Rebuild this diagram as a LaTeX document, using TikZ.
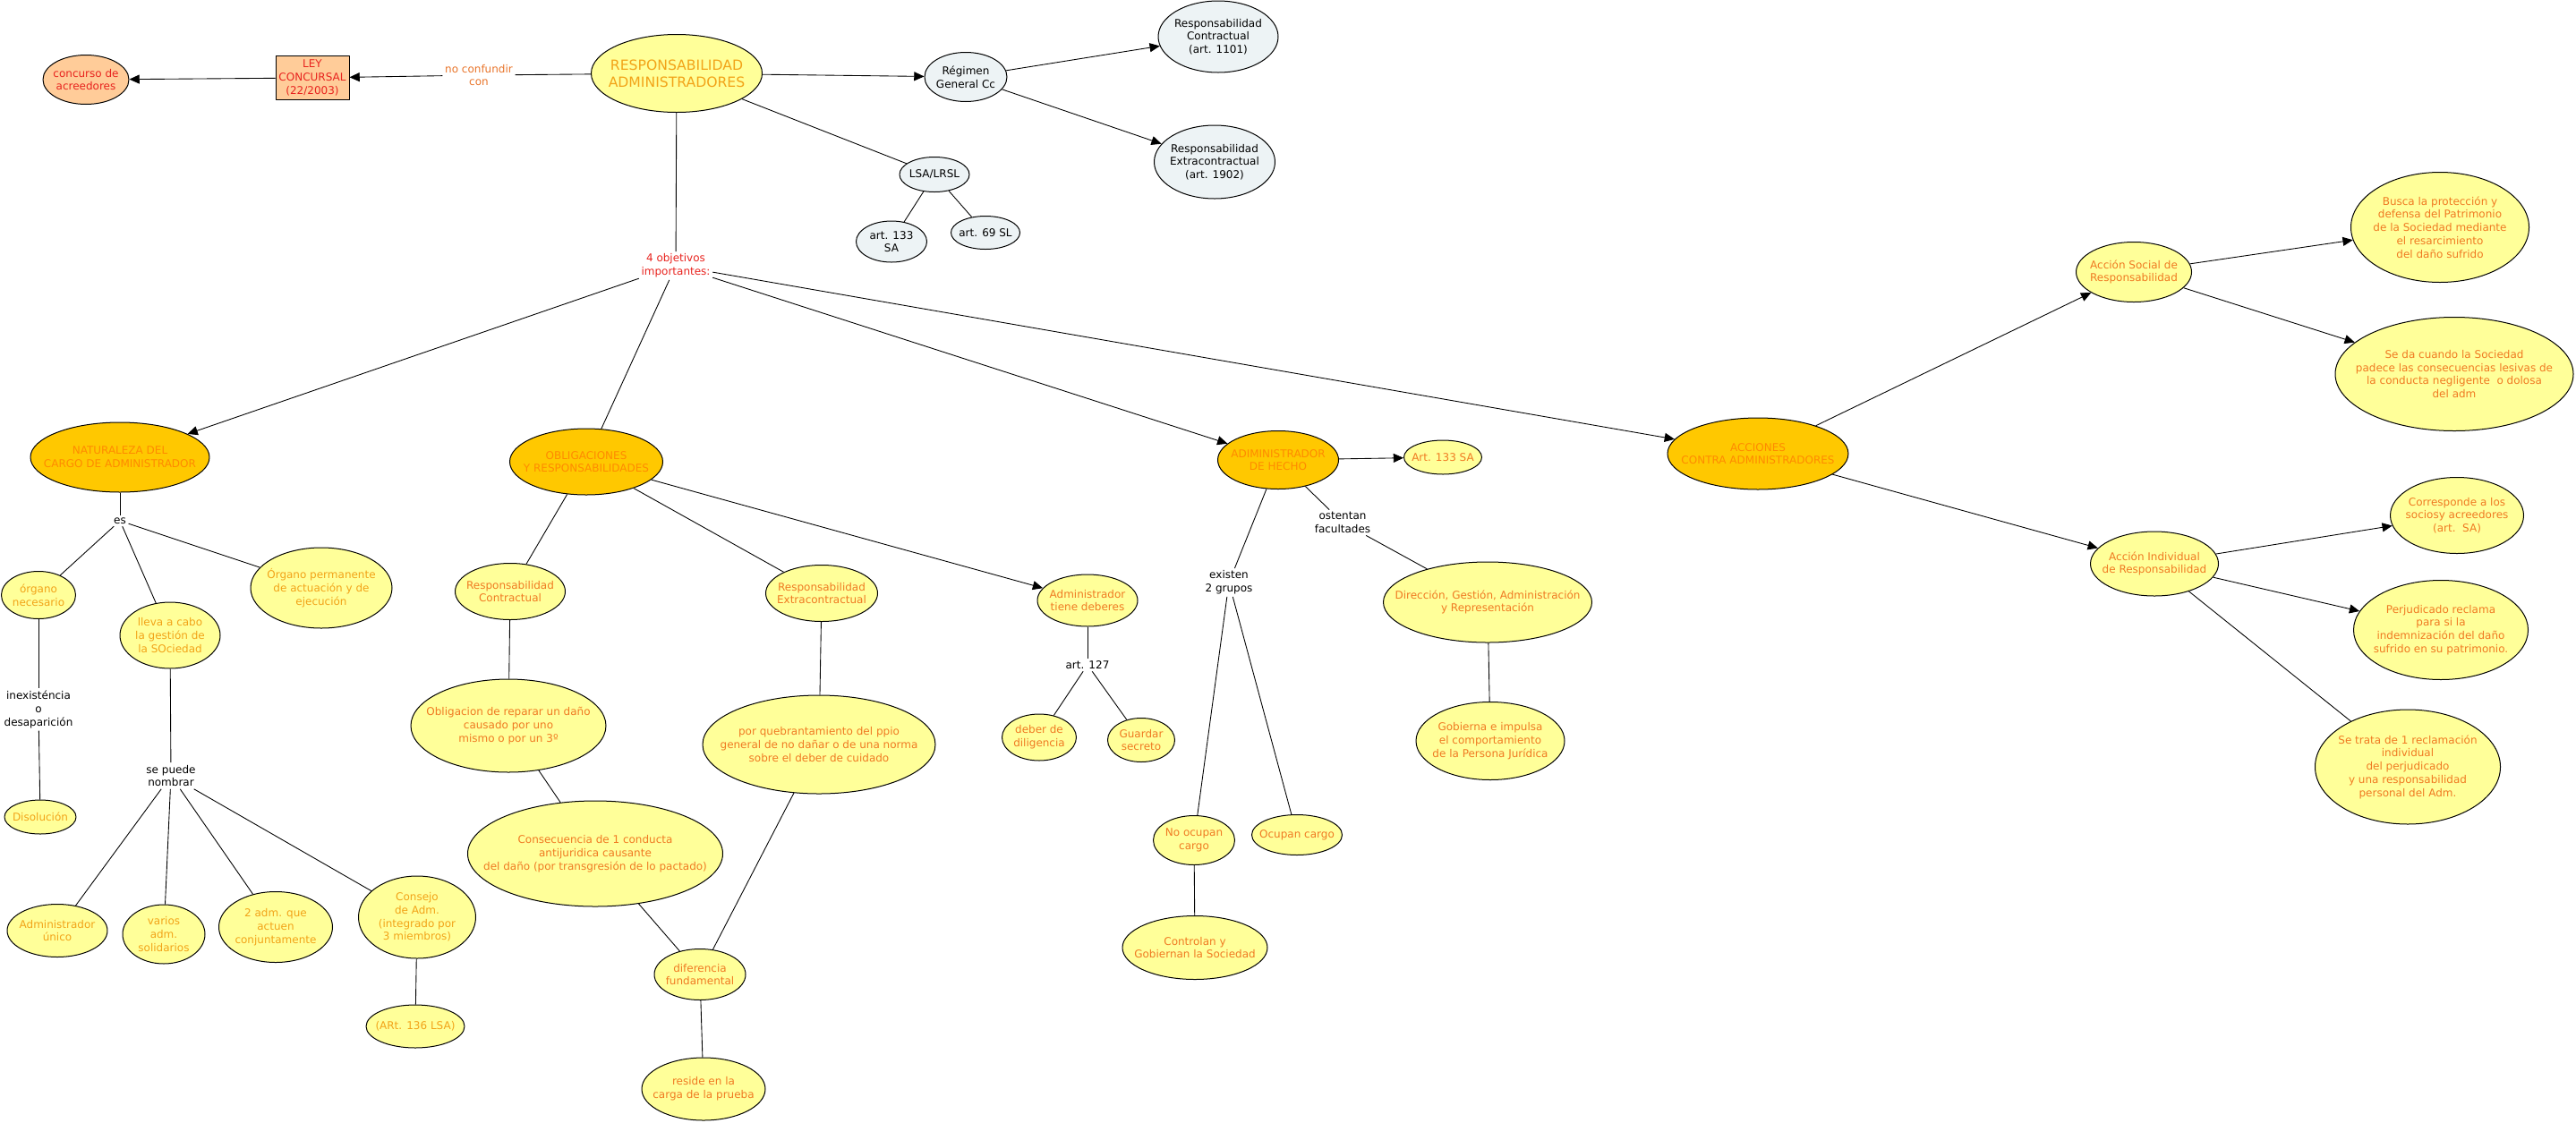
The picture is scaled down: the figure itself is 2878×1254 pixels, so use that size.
\documentclass[tikz,border=0pt]{standalone}
\usepackage{fontspec}
\setmainfont{DejaVu Sans}
\usetikzlibrary{shapes.geometric,arrows.meta}
\definecolor{goldfill}{HTML}{FFC800}
\definecolor{yelfill}{HTML}{FFFF99}
\definecolor{greyfill}{HTML}{EDF3F5}
\definecolor{peachfill}{HTML}{FFCC99}
\definecolor{redtxt}{HTML}{E8231E}
\definecolor{ambertxt}{HTML}{F2A318}
\definecolor{orangetxt}{HTML}{F07A22}
\definecolor{goldtxt}{HTML}{FF8A00}
\definecolor{linktxt}{HTML}{E8742A}
\begin{document}
\begin{tikzpicture}[x=0.8pt,y=-0.8pt, line join=round, font=\fontsize{9.6}{11.8}\selectfont]
			\tikzset{
				sz/.style 2 args={minimum width=#1*0.8pt, minimum height=#2*0.8pt},
				ov/.style={ellipse, draw, line width=0.8pt, inner sep=0pt},
				goldov/.style={ov, fill=goldfill},
				yelov/.style={ov, fill=yelfill},
				greyov/.style={ov, fill=greyfill},
				peachov/.style={ov, fill=peachfill},
				tA/.style={text=ambertxt, align=center},
				tB/.style={text=orangetxt, align=center},
				tG/.style={text=goldtxt, align=center},
				tR/.style={text=redtxt, align=center},
				tK/.style={text=black, align=center},
				lbl/.style={align=center, inner sep=2pt},
				con/.style={line width=0.7pt},
				arr/.style={con, -{Triangle[length=9pt,width=8pt]}}
			}
			\useasboundingbox (0,0) rectangle (2878,1254);
			%\draw[color=gray!50,dashed,step=100] (0,0) grid (2878,1254);
			% top row
			\node[peachov, sz={96}{55}, label={[tR]center:concurso de\\acreedores}] (concurso) at (96,89) {};
			\node[draw, line width=0.8pt, fill=peachfill, sz={82}{49}, inner sep=1pt, tR] (ley) at (349,87) {LEY\\CONCURSAL\\(22/2003)};
			\node[lbl, text=linktxt] (nocon) at (535,84) {no confundir\\con};
			\node[yelov, sz={191}{87}, label={[tA, font=\fontsize{12.5}{15}\selectfont]center:RESPONSABILIDAD\\ADMINISTRADORES}] (resp) at (756,82) {};
			\node[greyov, sz={92}{55}, label={[tK]center:Régimen\\General Cc}] (regimen) at (1079,86) {};
			\node[greyov, sz={134}{80}, label={[tK]center:Responsabilidad\\Contractual\\(art. 1101)}] (rcon) at (1361,41) {};
			\node[greyov, sz={135}{82}, label={[tK]center:Responsabilidad\\Extracontractual\\(art. 1902)}] (rext) at (1357,181) {};
			\node[greyov, sz={78}{39}, label={[tK]center:LSA/LRSL}] (lsa) at (1044,195) {};
			\node[greyov, sz={79}{46}, label={[tK]center:art. 133\\SA}] (a133) at (996,270) {};
			\node[greyov, sz={77}{37}, label={[tK]center:art. 69 SL}] (a69) at (1101,260) {};
			\node[lbl, tR] (obj) at (755,297) {4 objetivos\\importantes:};
			% naturaleza del cargo
			\node[goldov, sz={200}{78}, label={[tG]center:NATURALEZA DEL\\CARGO DE ADMINISTRADOR}] (nat) at (134,511) {};
			\node[lbl] (es) at (134,582) {es};
			\node[yelov, sz={83}{53}, label={[tA]center:órgano\\necesario}] (necesario) at (43,665) {};
			\node[yelov, sz={112}{74}, label={[tA]center:lleva a cabo\\la gestión de\\la SOciedad}] (lleva) at (190,710) {};
			\node[yelov, sz={158}{90}, label={[tA]center:Órgano permanente\\de actuación y de\\ejecución}] (permanente) at (359,657) {};
			\node[lbl] (inex) at (43,793) {inexisténcia\\o\\desaparición};
			\node[yelov, sz={80}{38}, label={[tA]center:Disolución}] (disol) at (45,913) {};
			\node[lbl] (nombrar) at (191,867) {se puede\\nombrar};
			\node[yelov, sz={112}{59}, label={[tA]center:Administrador\\único}] (unico) at (64,1040) {};
			\node[yelov, sz={92}{66}, label={[tA]center:varios\\adm.\\solidarios}] (varios) at (183,1044) {};
			\node[yelov, sz={127}{79}, label={[tA]center:2 adm. que\\actuen\\conjuntamente}] (conj) at (308,1036) {};
			\node[yelov, sz={131}{92}, label={[tA]center:Consejo\\de Adm.\\(integrado por\\3 miembros)}] (consejo) at (466,1025) {};
			\node[yelov, sz={110}{48}, label={[tA]center:(ARt. 136 LSA)}] (art136) at (464,1147) {};
			% obligaciones
			\node[goldov, sz={171}{74}, label={[tG]center:OBLIGACIONES\\Y RESPONSABILIDADES}] (oblig) at (655,516) {};
			\node[yelov, sz={123}{63}, label={[tB]center:Responsabilidad\\Contractual}] (rc) at (570,661) {};
			\node[yelov, sz={125}{63}, label={[tB]center:Responsabilidad\\Extracontractual}] (re) at (918,663) {};
			\node[yelov, sz={218}{104}, label={[tB]center:Obligacion de reparar un daño\\causado por uno\\mismo o por un 3º}] (reparar) at (568,811) {};
			\node[yelov, sz={260}{110}, label={[tB]center:por quebrantamiento del ppio\\general de no dañar o de una norma\\sobre el deber de cuidado}] (quebr) at (915,832) {};
			\node[yelov, sz={285}{118}, label={[tB]center:Consecuencia de 1 conducta\\antijuridica causante\\del daño (por transgresión de lo pactado)}] (consec) at (665,954) {};
			\node[yelov, sz={102}{57}, label={[tB]center:diferencia\\fundamental}] (dif) at (782,1089) {};
			\node[yelov, sz={138}{70}, label={[tB]center:reside en la\\carga de la prueba}] (reside) at (786,1217) {};
			\node[yelov, sz={112}{58}, label={[tB]center:Administrador\\tiene deberes}] (deberes) at (1215,671) {};
			\node[lbl] (a127) at (1215,743) {art. 127};
			\node[yelov, sz={83}{52}, label={[tB]center:deber de\\diligencia}] (dilig) at (1161,824) {};
			\node[yelov, sz={75}{49}, label={[tB]center:Guardar\\secreto}] (secreto) at (1275,827) {};
			% administrador de hecho
			\node[goldov, sz={135}{65}, label={[tG]center:ADIMINISTRADOR\\DE HECHO}] (hecho) at (1428,514) {};
			\node[yelov, sz={87}{38}, label={[tB]center:Art. 133 SA}] (a133sa) at (1612,511) {};
			\node[lbl] (grupos) at (1373,651) {existen\\2 grupos};
			\node[lbl] (facult) at (1500,584) {ostentan\\facultades};
			\node[yelov, sz={233}{90}, label={[tB]center:Dirección, Gestión, Administración\\y Representación}] (direccion) at (1662,673) {};
			\node[yelov, sz={166}{87}, label={[tB]center:Gobierna e impulsa\\el comportamiento\\de la Persona Jurídica}] (gobierna) at (1665,828) {};
			\node[yelov, sz={91}{55}, label={[tB]center:No ocupan\\cargo}] (noocu) at (1334,939) {};
			\node[yelov, sz={101}{45}, label={[tB]center:Ocupan cargo}] (ocu) at (1449,933) {};
			\node[yelov, sz={162}{71}, label={[tB]center:Controlan y\\Gobiernan la Sociedad}] (controlan) at (1335,1059) {};
			% acciones
			\node[goldov, sz={202}{80}, label={[tG]center:ACCIONES\\CONTRA ADMINISTRADORES}] (acc) at (1964,507) {};
			\node[yelov, sz={129}{67}, label={[tB]center:Acción Social de\\Responsabilidad}] (social) at (2384,304) {};
			\node[yelov, sz={199}{123}, label={[tB]center:Busca la protección y\\defensa del Patrimonio\\de la Sociedad mediante\\el resarcimiento\\del daño sufrido}] (busca) at (2726,254) {};
			\node[yelov, sz={266}{127}, label={[tB]center:Se da cuando la Sociedad\\padece las consecuencias lesivas de\\la conducta negligente\ \ o dolosa\\del adm}] (seda) at (2742,418) {};
			\node[yelov, sz={143}{72}, label={[tB]center:Acción Individual\\de Responsabilidad}] (indiv) at (2407,630) {};
			\node[yelov, sz={149}{85}, label={[tB]center:Corresponde a los\\sociosy acreedores\\(art.\ \ SA)}] (corresp) at (2745,576) {};
			\node[yelov, sz={195}{111}, label={[tB]center:Perjudicado reclama\\para si la\\indemnización del daño\\sufrido en su patrimonio.}] (perjud) at (2727,704) {};
			\node[yelov, sz={207}{128}, label={[tB]center:Se trata de 1 reclamación\\individual\\del perjudicado\\y una responsabilidad\\personal del Adm.}] (setrata) at (2690,857) {};
			% connectors
			\draw[con] (resp) -- (nocon);
			\draw[arr] (nocon) -- (ley);
			\draw[arr] (ley) -- (concurso);
			\draw[arr] (resp) -- (regimen);
			\draw[arr] (regimen) -- (rcon);
			\draw[arr] (regimen) -- (rext);
			\draw[con] (resp) -- (lsa);
			\draw[con] (lsa) -- (a133);
			\draw[con] (lsa) -- (a69);
			\draw[con] (resp) -- (obj);
			\draw[arr] (obj) -- (nat);
			\draw[con] (obj) -- (oblig);
			\draw[arr] (obj) -- (hecho);
			\draw[arr] (obj) -- (acc);
			\draw[con] (nat) -- (es);
			\draw[con] (es) -- (necesario);
			\draw[con] (es) -- (lleva);
			\draw[con] (es) -- (permanente);
			\draw[con] (necesario) -- (inex);
			\draw[con] (inex) -- (disol);
			\draw[con] (lleva) -- (nombrar);
			\draw[con] (nombrar) -- (unico);
			\draw[con] (nombrar) -- (varios);
			\draw[con] (nombrar) -- (conj);
			\draw[con] (nombrar) -- (consejo);
			\draw[con] (consejo) -- (art136);
			\draw[con] (oblig) -- (rc);
			\draw[con] (oblig) -- (re);
			\draw[arr] (oblig) -- (deberes);
			\draw[con] (rc) -- (reparar);
			\draw[con] (reparar) -- (consec);
			\draw[con] (consec) -- (dif);
			\draw[con] (re) -- (quebr);
			\draw[con] (quebr) -- (dif);
			\draw[con] (dif) -- (reside);
			\draw[con] (deberes) -- (a127);
			\draw[con] (a127) -- (dilig);
			\draw[con] (a127) -- (secreto);
			\draw[arr] (hecho) -- (a133sa);
			\draw[con] (hecho) -- (grupos);
			\draw[con] (grupos) -- (noocu);
			\draw[con] (grupos) -- (ocu);
			\draw[con] (noocu) -- (controlan);
			\draw[con] (hecho) -- (facult);
			\draw[con] (facult) -- (direccion);
			\draw[con] (direccion) -- (gobierna);
			\draw[arr] (acc) -- (social);
			\draw[arr] (acc) -- (indiv);
			\draw[arr] (social) -- (busca);
			\draw[arr] (social) -- (seda);
			\draw[arr] (indiv) -- (corresp);
			\draw[arr] (indiv) -- (perjud);
			\draw[con] (indiv) -- (setrata);
		\end{tikzpicture}
\end{document}
